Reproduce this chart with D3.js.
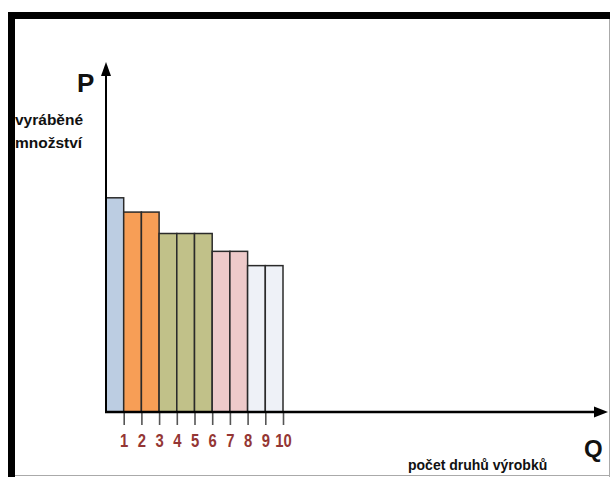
<!DOCTYPE html>
<html>
<head>
<meta charset="utf-8">
<script src="https://cdn.jsdelivr.net/npm/d3@7"></script>
<style>
  html, body { margin: 0; padding: 0; background: #fff; }
  svg { display: block; }
</style>
</head>
<body>
<script>
// ---- data ----
const categories = ["1","2","3","4","5","6","7","8","9","10"];
const values = [6.0, 5.6, 5.6, 5.0, 5.0, 5.0, 4.5, 4.5, 4.1, 4.1];
const groups = [0, 1, 1, 2, 2, 2, 3, 3, 4, 4];
const groupColors = ["#BCCDE2", "#F79E56", "#C1C189", "#EECACA", "#EEF1F7"];
const tickLabels = ["1","2","3","4","5","6","7","8","9","10"];
const yAxisTitle = "P";
const yAxisCaption = ["vyráběné", "množství"];
const xAxisTitle = "Q";
const xAxisCaption = "počet druhů výrobků";

const W = 610, H = 477;
const svg = d3.select("body").append("svg").attr("width", W).attr("height", H);

// frame
svg.append("rect").attr("x", 0).attr("y", 0).attr("width", W).attr("height", H).attr("fill", "#fff");
svg.append("line").attr("x1", 609.5).attr("x2", 609.5).attr("y1", 18).attr("y2", H).attr("stroke", "#aaa").attr("stroke-width", 1);
svg.append("line").attr("x1", 8).attr("x2", W).attr("y1", 475.5).attr("y2", 475.5).attr("stroke", "#aaa").attr("stroke-width", 1);
svg.append("rect").attr("x", 8).attr("y", 12).attr("width", W - 8).attr("height", 7).attr("fill", "#000");
svg.append("rect").attr("x", 8).attr("y", 12).attr("width", 7).attr("height", H - 12).attr("fill", "#000");

// scales
const x0 = 106, baseY = 412;
const x = d3.scaleLinear().domain([0, categories.length]).range([x0, 283]);
const y = d3.scaleLinear().domain([0, 10]).range([baseY, 55]);

// bars
svg.append("g").selectAll("rect").data(values).join("rect")
  .attr("x", (d, i) => x(i))
  .attr("y", d => y(d))
  .attr("width", (d, i) => x(i + 1) - x(i))
  .attr("height", d => baseY - y(d))
  .attr("fill", (d, i) => groupColors[groups[i]])
  .attr("stroke", "#2a2a2a")
  .attr("stroke-width", 1.5);

// x axis ticks & labels
const axis = d3.axisBottom(x)
  .tickValues(d3.range(1, categories.length + 1))
  .tickFormat((d, i) => tickLabels[i])
  .tickSize(13)
  .tickPadding(9);
const gx = svg.append("g").attr("transform", `translate(0,${baseY})`).call(axis);
gx.select(".domain").remove();
gx.selectAll(".tick line").attr("stroke", "#555").attr("stroke-width", 1.6);
gx.selectAll(".tick text")
  .attr("fill", "#943634")
  .attr("font-family", "'Liberation Sans', Arial, sans-serif")
  .attr("font-weight", "bold")
  .attr("font-size", 19)
  .attr("transform", "scale(0.78,1)");

// axis lines with arrows
svg.append("line").attr("x1", x0).attr("x2", x0).attr("y1", baseY + 1).attr("y2", 72)
  .attr("stroke", "#000").attr("stroke-width", 2);
svg.append("path").attr("d", `M${x0 - 5},76 L${x0},62 L${x0 + 5},76 Z`).attr("fill", "#000");
svg.append("line").attr("x1", x0 - 1).attr("x2", 598).attr("y1", baseY).attr("y2", baseY)
  .attr("stroke", "#000").attr("stroke-width", 2.5);
svg.append("path").attr("d", `M594,${baseY - 5.5} L608,${baseY} L594,${baseY + 5.5} Z`).attr("fill", "#000");

// titles
const font = "'Liberation Sans', Arial, sans-serif";
svg.append("text").attr("x", 77).attr("y", 92).text(yAxisTitle)
  .attr("font-family", font).attr("font-weight", "bold").attr("font-size", 26).attr("fill", "#111");
svg.append("text").attr("x", 584).attr("y", 457).text(xAxisTitle)
  .attr("font-family", font).attr("font-weight", "bold").attr("font-size", 24).attr("fill", "#111");
svg.selectAll(".ycap").data(yAxisCaption).join("text")
  .attr("x", 15).attr("y", (d, i) => 125 + i * 23).text(d => d)
  .attr("font-family", font).attr("font-weight", "bold").attr("font-size", 15.5).attr("fill", "#111");
svg.append("text").attr("x", 408).attr("y", 470).text(xAxisCaption)
  .attr("font-family", font).attr("font-weight", "bold").attr("font-size", 14).attr("fill", "#111");
</script>
</body>
</html>
